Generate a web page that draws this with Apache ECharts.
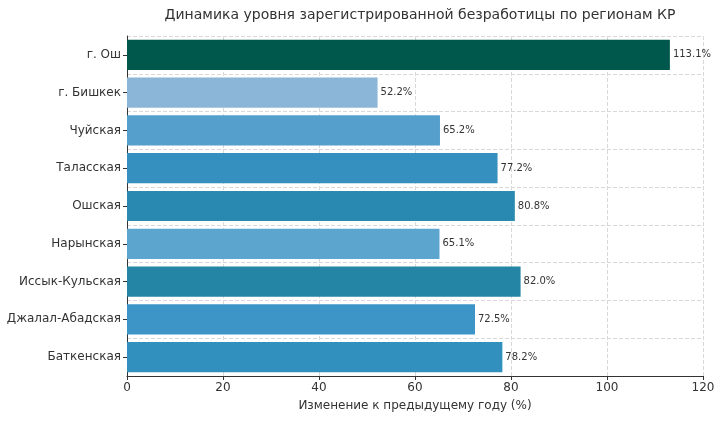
<!DOCTYPE html>
<html>
<head>
<meta charset="utf-8">
<script src="https://cdn.jsdelivr.net/npm/echarts@6/dist/echarts.min.js"></script>
<style>html,body{margin:0;background:#fff}#chart{width:720px;height:429px}</style>
</head>
<body>
<div id="chart"></div>
<script>
const regions = ['г. Ош', 'г. Бишкек', 'Чуйская', 'Таласская', 'Ошская', 'Нарынская', 'Иссык-Кульская', 'Джалал-Абадская', 'Баткенская'];
const values = [113.1, 52.2, 65.2, 77.2, 80.8, 65.1, 82.0, 72.5, 78.2];
const barColors = ['#00574b', '#8cb6d8', '#549fcc', '#3590bf', '#2a89b0', '#5ba5cf', '#2585a5', '#3d95c7', '#3190bd'];

const chart = echarts.init(document.getElementById('chart'));
const font = 'DejaVu Sans';
const grid = { color: '#d8d8d8', type: 'dashed', width: 1 };

chart.setOption({
  animation: false,
  textStyle: { fontFamily: font },
  title: {
    text: 'Динамика уровня зарегистрированной безработицы по регионам КР',
    left: 415, textAlign: 'center', top: 3,
    textStyle: { fontSize: 14, fontWeight: 'normal', color: '#333', fontFamily: font }
  },
  grid: { left: 127, right: 17, top: 36, bottom: 53 },
  xAxis: {
    type: 'value', min: 0, max: 120, interval: 20,
    name: 'Изменение к предыдущему году (%)', nameLocation: 'middle', nameGap: 24,
    nameTextStyle: { fontSize: 12, color: '#333' },
    axisLine: { show: true, lineStyle: { color: '#333' } },
    axisTick: { show: true, length: 4, lineStyle: { color: '#333' } },
    axisLabel: { fontSize: 12, color: '#333', margin: 6 },
    splitLine: { show: true, lineStyle: grid }
  },
  yAxis: {
    type: 'category', inverse: true, data: regions,
    axisLine: { show: true, lineStyle: { color: '#333' } },
    axisTick: { show: true, alignWithLabel: true, length: 4, lineStyle: { color: '#333' } },
    axisLabel: { fontSize: 12, color: '#333', margin: 6 },
    splitLine: { show: true, lineStyle: grid }
  },
  series: [{
    type: 'bar', barWidth: '80%',
    data: values.map((v, i) => ({ value: v, itemStyle: { color: barColors[i] } })),
    label: { show: true, position: 'right', distance: 3, formatter: p => p.value.toFixed(1) + '%', fontSize: 10, color: '#333' }
  }]
});
</script>
</body>
</html>
